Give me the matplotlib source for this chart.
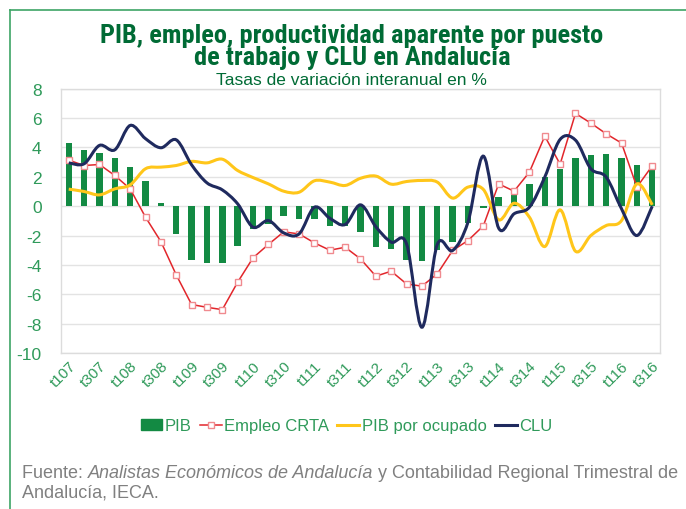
import matplotlib
matplotlib.use("Agg")
import matplotlib.pyplot as plt
from matplotlib.path import Path
from matplotlib.patches import PathPatch, Patch
from matplotlib.lines import Line2D

# Quarters t107 .. t316 (39 points), labels every second quarter
quarters = [f"t{q}{y:02d}" for y in range(7, 17) for q in range(1, 5)][:39]
tick_labels = quarters[::2]

pib = [4.3, 3.84, 3.64, 3.27, 2.64, 1.73, 0.23, -1.93, -3.66, -3.9,
       -3.86, -2.73, -1.55, -1.2, -0.7, -0.86, -0.86, -1.32, -1.36, -1.73,
       -2.75, -2.93, -3.64, -3.73, -3.0, -2.45, -1.14, -0.14, 0.64, 0.89,
       1.52, 2.02, 2.55, 3.27, 3.52, 3.57, 3.27, 2.82, 2.55]
empleo = [3.14, 2.77, 2.84, 2.09, 1.18, -0.75, -2.41, -4.68, -6.7, -6.89,
          -7.05, -5.18, -3.52, -2.61, -1.75, -1.89, -2.5, -3.0, -2.8, -3.59,
          -4.77, -4.43, -5.3, -5.45, -4.61, -3.02, -2.34, -1.34, 1.52, 1.02,
          2.32, 4.77, 2.86, 6.32, 5.66, 4.93, 4.3, 1.3, 2.75]
pib_ocupado = [1.16, 1.0, 0.77, 1.18, 1.45, 2.55, 2.66, 2.77, 3.05, 2.95,
               3.2, 2.43, 1.95, 1.52, 1.02, 0.95, 1.73, 1.64, 1.41, 1.9,
               2.05, 1.5, 1.68, 1.75, 1.64, 0.55, 1.3, 1.14, -0.93, 0.2,
               -0.75, -2.75, -0.25, -3.07, -2.0, -1.32, -0.98, 1.52, 0.09]
clu = [2.95, 2.89, 4.14, 3.84, 5.5, 4.6, 3.98, 4.52, 2.82, 1.59,
       1.11, 0.16, -1.43, -0.98, -1.82, -1.89, -0.07, -0.82, -1.25, 0.09,
       -1.4, -2.45, -2.57, -8.25, -2.61, -3.02, -1.09, 3.41, -1.5, -0.52,
       -0.07, 1.98, 4.55, 4.5, 2.55, 1.98, -0.18, -2.0, 0.0]

GREEN_TXT = "#2f9a5a"
DARK_GREEN = "#006b35"
BAR_GREEN = "#138a43"
RED = "#e2262b"
YELLOW = "#ffc61a"
NAVY = "#1f2a5e"


def smooth_path(ys):
    # Excel-style smoothed line: Catmull-Rom segments as cubic Bezier curves
    pts = list(enumerate(ys))
    n = len(pts)
    verts = [pts[0]]
    codes = [Path.MOVETO]
    for i in range(n - 1):
        p0 = pts[max(i - 1, 0)]
        p1 = pts[i]
        p2 = pts[i + 1]
        p3 = pts[min(i + 2, n - 1)]
        c1 = (p1[0] + (p2[0] - p0[0]) / 6, p1[1] + (p2[1] - p0[1]) / 6)
        c2 = (p2[0] - (p3[0] - p1[0]) / 6, p2[1] - (p3[1] - p1[1]) / 6)
        verts += [c1, c2, p2]
        codes += [Path.CURVE4] * 3
    return Path(verts, codes)


plt.rcParams['font.family'] = ['Liberation Sans', 'DejaVu Sans']
plt.rcParams['axes.unicode_minus'] = False

fig = plt.figure(figsize=(6.86, 5.1), dpi=100)
ax = fig.add_axes([0.089, 0.306, 0.873, 0.518])

x = list(range(len(quarters)))
ax.bar(x, pib, width=0.42, color=BAR_GREEN, zorder=2)
ax.plot(x, empleo, color=RED, lw=1.1, marker="s", markersize=5,
        markerfacecolor="white", markeredgecolor="#f08a8f",
        markeredgewidth=1.0, zorder=3)
ax.add_patch(PathPatch(smooth_path(pib_ocupado), fill=False,
                       edgecolor=YELLOW, lw=2.2, zorder=4))
ax.add_patch(PathPatch(smooth_path(clu), fill=False,
                       edgecolor=NAVY, lw=2.2, zorder=5))

ax.set_xlim(-0.5, len(quarters) - 0.5)
ax.set_ylim(-10, 8)
ax.set_yticks(range(-10, 9, 2))
ax.set_xticks(x[::2])
ax.set_xticklabels(tick_labels, rotation=45, ha="right",
                   rotation_mode="anchor", fontsize=11, color=GREEN_TXT)
ax.tick_params(axis="y", labelsize=12.5, labelcolor=GREEN_TXT, length=0, pad=14)
ax.tick_params(axis="x", length=0, pad=4)
ax.grid(axis="y", color="#e3e3e3", lw=1, zorder=0)
for s in ax.spines.values():
    s.set_color("#dcdcdc")
    s.set_linewidth(1)

# Titles
title_font = dict(ha="center", va="baseline", fontsize=19, fontweight="bold",
                  family=["Roboto Condensed", "DejaVu Sans"], color=DARK_GREEN)
fig.text(0.513, 0.9157, "PIB, empleo, productividad aparente por puesto", **title_font)
fig.text(0.513, 0.8725, "de trabajo y CLU en Andalucía", **title_font)
fig.text(0.513, 0.8333, "Tasas de variación interanual en %", ha="center",
         va="baseline", fontsize=12.5, color=DARK_GREEN)

# Legend
handles = [
    Patch(facecolor=BAR_GREEN, edgecolor=BAR_GREEN),
    Line2D([], [], color=RED, lw=1.1, marker="s", markersize=5,
           markerfacecolor="white", markeredgecolor="#f08a8f"),
    Line2D([], [], color=YELLOW, lw=2.2),
    Line2D([], [], color=NAVY, lw=2.2),
]
labels = ["PIB", "Empleo CRTA", "PIB por ocupado", "CLU"]
leg = fig.legend(handles, labels, loc="center", bbox_to_anchor=(0.505, 0.163),
                 ncol=4, frameon=False, fontsize=12, handlelength=1.3,
                 handletextpad=0.15, columnspacing=0.5)
for t in leg.get_texts():
    t.set_color(GREEN_TXT)

# Source note
src1 = fig.text(0.032, 0.062, "Fuente: ", fontsize=13, color="#808080", va="baseline")
src2 = ax.annotate("Analistas Económicos de Andalucía", xy=(1, 0), xycoords=src1,
                   fontsize=13, color="#808080", style="italic", va="bottom")
ax.annotate(" y Contabilidad Regional Trimestral de", xy=(1, 0), xycoords=src2,
            fontsize=13, color="#808080", va="bottom")
fig.text(0.032, 0.025, "Andalucía, IECA.", fontsize=13, color="#808080", va="baseline")

# Outer green frame (top and left)
fig.add_artist(Line2D([0.015, 0.015], [0.0, 0.979], color="#3da466", lw=1.2))
fig.add_artist(Line2D([0.015, 1.0], [0.979, 0.979], color="#3da466", lw=1.2))

fig.savefig("out.png", dpi=100)
